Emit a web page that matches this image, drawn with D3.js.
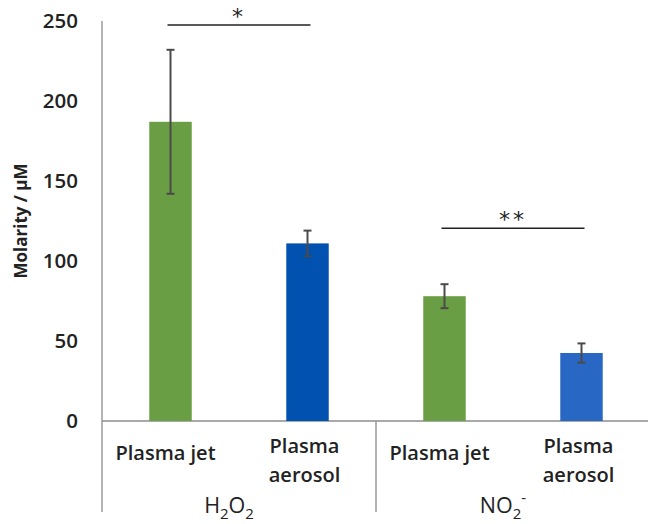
<!DOCTYPE html>
<html>
<head>
<meta charset="utf-8">
<script src="https://cdn.jsdelivr.net/npm/d3@7"></script>
<style>
  body { margin: 0; background: #fff; }
  svg { display: block; font-family: "Open Sans", Lato, sans-serif; }
</style>
</head>
<body>
<svg id="chart" width="648" height="524"></svg>
<script>
// Data
const groups = ['H2O2', 'NO2-'];
const categories = ['Plasma jet', 'Plasma aerosol', 'Plasma jet', 'Plasma aerosol'];
const barGroup = [0, 0, 1, 1];
const values = [187, 111, 78, 42.5];
const errors = [45, 8, 7.5, 6];
const barColors = ['#6a9e45', '#0152b0', '#6a9e45', '#2867c4'];
const yTicks = [0, 50, 100, 150, 200, 250];
// significance brackets: bar index pairs, line height (in µM), label
const sigFrom = [0, 2];
const sigTo = [1, 3];
const sigLevel = [247.5, 120.5];
const sigLabel = ['*', '**'];

const svg = d3.select('#chart');

// Plot geometry
const left = 102, right = 650, baseY = 421, topY = 21, bottomY = 512;

const keys = d3.range(values.length);
const xScale = d3.scaleBand().domain(keys).range([left, right]).padding(0);
const barW = xScale.bandwidth() * 0.31;
const cx = i => xScale(i) + xScale.bandwidth() / 2;

const yScale = d3.scaleLinear().domain([0, 250]).range([baseY, topY]);

// Axis lines
svg.append('line')
  .attr('x1', left).attr('x2', left)
  .attr('y1', topY).attr('y2', bottomY)
  .attr('stroke', '#8c8c8c').attr('stroke-width', 1.3);
svg.append('line')
  .attr('x1', left).attr('x2', right)
  .attr('y1', baseY).attr('y2', baseY)
  .attr('stroke', '#8c8c8c').attr('stroke-width', 1.3);

// group divider
const groupEdge = xScale(2);
svg.append('line')
  .attr('x1', groupEdge).attr('x2', groupEdge)
  .attr('y1', baseY).attr('y2', bottomY)
  .attr('stroke', '#8c8c8c').attr('stroke-width', 1.3);

// Y tick labels
svg.append('g').selectAll('text')
  .data(yTicks)
  .join('text')
  .attr('x', 78)
  .attr('y', d => yScale(d))
  .attr('dy', '0.36em')
  .attr('text-anchor', 'end')
  .attr('font-size', 20.5)
  .attr('font-weight', 600)
  .attr('fill', '#222')
  .text(d => d);

// Y axis title
svg.append('text')
  .attr('transform', 'translate(27,221) rotate(-90)')
  .attr('text-anchor', 'middle')
  .attr('font-size', 17)
  .attr('font-weight', 'bold')
  .attr('fill', '#222')
  .text('Molarity / µM');

// Bars
svg.append('g').selectAll('rect')
  .data(keys)
  .join('rect')
  .attr('x', i => cx(i) - barW / 2)
  .attr('y', i => yScale(values[i]))
  .attr('width', barW)
  .attr('height', i => baseY - yScale(values[i]))
  .attr('fill', i => barColors[i]);

// Error bars
const eb = svg.append('g').attr('stroke', '#4a4a4a').attr('stroke-width', 2);
keys.forEach(i => {
  const y1 = yScale(values[i] + errors[i]);
  const y2 = yScale(values[i] - errors[i]);
  eb.append('line').attr('x1', cx(i)).attr('x2', cx(i)).attr('y1', y1).attr('y2', y2);
  eb.append('line').attr('x1', cx(i) - 4).attr('x2', cx(i) + 4).attr('y1', y1).attr('y2', y1);
  eb.append('line').attr('x1', cx(i) - 4).attr('x2', cx(i) + 4).attr('y1', y2).attr('y2', y2);
});

// Significance brackets
sigFrom.forEach((a, k) => {
  const b = sigTo[k];
  const y = yScale(sigLevel[k]);
  svg.append('line')
    .attr('x1', cx(a) - 3).attr('x2', cx(b) + 3)
    .attr('y1', y).attr('y2', y)
    .attr('stroke', '#222').attr('stroke-width', 1.5);
  svg.append('text')
    .attr('x', (cx(a) + cx(b)) / 2)
    .attr('y', y - 1)
    .attr('text-anchor', 'middle')
    .attr('font-family', '"DejaVu Sans", sans-serif')
    .attr('font-size', 22)
    .attr('letter-spacing', 3)
    .attr('fill', '#222')
    .text(sigLabel[k]);
});

// Category labels
const catG = svg.append('g')
  .attr('font-size', 20)
  .attr('font-weight', 600)
  .attr('fill', '#222')
  .attr('text-anchor', 'middle');
keys.forEach(i => {
  const words = categories[i].split(' ');
  if (categories[i] === 'Plasma jet') {
    catG.append('text').attr('x', cx(i) - 5).attr('y', 460).text(categories[i]);
  } else {
    catG.append('text').attr('x', cx(i) - 3).attr('y', 453).text(words[0]);
    catG.append('text').attr('x', cx(i) - 3).attr('y', 482).text(words[1]);
  }
});

// Group labels with sub/superscripts
groups.forEach((g, gi) => {
  const idx = keys.filter(i => barGroup[i] === gi);
  const gx = (xScale(idx[0]) + xScale(idx[idx.length - 1]) + xScale.bandwidth()) / 2 - 10;
  const t = svg.append('text')
    .attr('x', gx).attr('y', 513)
    .attr('text-anchor', 'middle')
    .attr('font-size', 21.5)
    .attr('fill', '#222');
  if (g === 'H2O2') {
    t.append('tspan').text('H');
    t.append('tspan').attr('font-size', 15).attr('dy', 6).text('2');
    t.append('tspan').attr('dy', -6).text('O');
    t.append('tspan').attr('font-size', 15).attr('dy', 6).text('2');
  } else {
    t.append('tspan').text('NO');
    t.append('tspan').attr('font-size', 15).attr('dy', 6).text('2');
    t.append('tspan').attr('font-size', 15).attr('dy', -16).attr('dx', 0).text('-');
  }
});
</script>
</body>
</html>
